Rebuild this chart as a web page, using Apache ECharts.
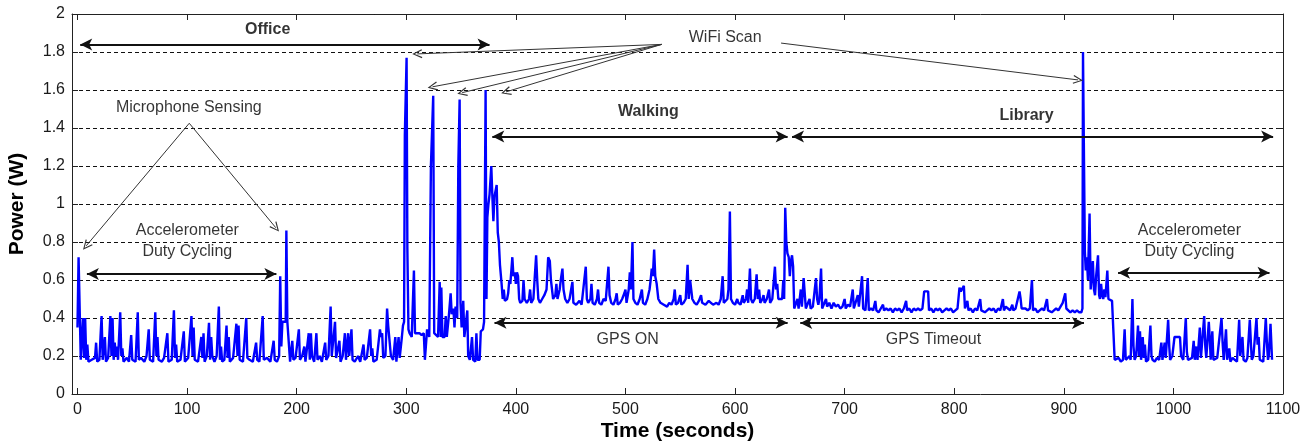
<!DOCTYPE html>
<html lang="en">
<head>
    <meta charset="UTF-8">
    <title>Power trace</title>
    <style>
        html, body {
            margin: 0;
            padding: 0;
            width: 100%;
            height: 100%;
            background: #fff;
        }
        #chart {
            width: 1311px;
            height: 441px;
        }
    </style>
</head>
<body>
<div id="chart"></div>
<script src="https://cdn.jsdelivr.net/npm/echarts@6/dist/echarts.min.js"></script>
<script type="text/javascript">
    // power samples [time (s), power (W)]
    var officeTrace = [
        [0,0.35],[1,0.72],[2.5,0.71],[3,0.18],[4,0.17],[5,0.4],[6,0.19],[7,0.4],[8,0.18],[9,0.26],[10,0.17],[13,0.18],[16,0.19],
        [17,0.27],[18,0.17],[20,0.18],[21,0.3],[22,0.41],[23,0.18],[25,0.3],[26,0.17],[28,0.19],[30,0.41],[31,0.2],[32,0.4],
        [33,0.18],[34,0.27],[35,0.2],[36,0.25],[37,0.18],[39,0.43],[40,0.2],[41,0.24],[42,0.17],[45,0.19],[47,0.17],[49,0.31],
        [50,0.18],[53,0.17],[55,0.43],[56,0.18],[58,0.19],[61,0.17],[63,0.2],[65,0.34],[66,0.18],[69,0.17],[71,0.43],[72,0.2],
        [73,0.3],[74,0.18],[77,0.17],[79,0.19],[82,0.32],[83,0.17],[86,0.18],[88,0.44],[89,0.19],[90,0.26],[91,0.17],[94,0.18],
        [97,0.33],[98,0.17],[101,0.19],[104,0.41],[105,0.2],[106,0.35],[107,0.18],[110,0.17],[113,0.3],[114,0.19],[115,0.32],
        [116,0.17],[118,0.2],[120,0.375],[121,0.18],[122,0.3],[123,0.2],[125,0.17],[127,0.2],[129,0.46],[130,0.18],[131,0.25],
        [132,0.17],[134,0.18],[136,0.36],[137,0.19],[138,0.3],[139,0.17],[142,0.19],[145,0.37],[146,0.2],[147,0.36],[148,0.18],
        [151,0.17],[154,0.4],[155,0.19],[157,0.18],[160,0.17],[163,0.27],[164,0.18],[166,0.17],[169,0.41],[170,0.18],[173,0.19],
        [176,0.17],[179,0.28],[180,0.18],[182,0.17],[184,0.2],[185,0.62],[186,0.25],[187,0.38],[190,0.38],[190.6,0.86],
        [191.5,0.38],[193,0.38],[194,0.17],[196,0.28],[197,0.18],[199,0.19],[202,0.34],[203,0.18],[205,0.2],[207,0.25],[208,0.17],
        [211,0.32],[212,0.18],[213,0.32],[214,0.2],[216,0.17],[218,0.32],[219,0.18],[221,0.2],[223,0.17],[226,0.27],[227,0.18],
        [229,0.2],[231,0.46],[232,0.2],[235,0.38],[236,0.19],[239,0.28],[240,0.17],[242,0.2],[244,0.32],[245,0.18],[247,0.32],
        [248,0.2],[250,0.34],[251,0.18],[253,0.17],[256,0.2],[258,0.17],[261,0.26],[262,0.18],[264,0.19],[267,0.34],[268,0.2],
        [269,0.24],[270,0.17],[273,0.18],[276,0.34],[277,0.3],[278,0.32],[279,0.19],[281,0.2],[282.5,0.45],[283.5,0.36],[285,0.36],
        [286,0.2],[288,0.18],[290,0.3],[291,0.17],[293,0.3],[294,0.19],[296,0.3],[297,0.36],[298,0.38],[298.7,1.36],[299.5,1.36],
        [300.3,1.77],[301,0.77],[302,0.34],[303,0.32],[305,0.3],[306,0.31],[307,0.65],[308,0.32],[312,0.32],[314,0.31],[316,0.32],
        [317,0.18],[318,0.18],[319,0.34],[321,0.3],[322.5,1.2],[323.5,1.2],[324.6,1.57],[325.5,0.32],[327,0.32],[329,0.3],
        [330.5,0.59],[331.5,0.3],[332,0.56],[333,0.3],[335,0.3],[336,0.41],[337,0.3],[338,0.3],[339,0.42],[340.5,0.53],
        [341.5,0.42],[343,0.45],[344,0.35],[345,0.46],[346.5,0.4],[347.5,1.2],[348.7,1.55],[349.5,0.48],[350.5,0.35],[352,0.49],
        [353,0.3],[354,0.35],[355.7,0.44],[356.5,0.2],[358,0.18],[360,0.3],[361,0.18],[363,0.17],[364,0.32],[365,0.18],[367,0.18],
        [368,0.33],[369,0.32],[370,0.34],[371,0.38]
    ];
    var walkTrace = [
        [372.4,1.6],[373.2,0.5],[374,0.93],[375,1.0],[376,1.05],[377.6,1.2],[378.5,1.05],[379.5,0.91],[380.5,1.04],[382.5,1.1],
        [383.5,0.85],[384.5,0.8],[385.5,0.68],[387,0.58],[388,0.5],[389,0.55],[390,0.49],[391,0.48],[392,0.5],[393,0.53],[394,0.6],
        [395,0.58],[396.8,0.72],[397.8,0.62],[399,0.64],[400,0.58],[401,0.64],[402,0.62],[403,0.5],[404,0.48],[406,0.49],[407,0.6],
        [408,0.5],[410,0.48],[412,0.5],[413,0.55],[414,0.48],[416,0.5],[418.5,0.73],[419.5,0.6],[420.5,0.5],[422,0.48],[424,0.5],
        [426,0.52],[428,0.55],[429.5,0.72],[431,0.7],[432,0.6],[433,0.55],[434,0.5],[436,0.52],[437,0.58],[438,0.5],[440,0.55],
        [441,0.6],[442.5,0.66],[443.5,0.55],[445,0.5],[447,0.48],[449,0.5],[451.6,0.59],[452.5,0.48],[455,0.47],[458,0.49],[460,0.47],
        [463.8,0.67],[464.8,0.5],[466,0.48],[468,0.5],[469,0.58],[470,0.48],[472,0.47],[474,0.5],[475,0.55],[476,0.48],[478,0.47],
        [480,0.5],[482,0.49],[484.5,0.67],[485.5,0.52],[487,0.48],[489,0.47],[491,0.5],[492,0.53],[493,0.47],[495,0.48],[497,0.5],
        [499,0.53],[500,0.55],[501,0.48],[503,0.55],[504,0.64],[505,0.55],[506.4,0.8],[507.3,0.5],[509,0.48],[511,0.47],[513,0.5],
        [515,0.55],[516,0.48],[518,0.47],[520,0.5],[522,0.55],[523,0.6],[524,0.66],[525,0.62],[526.2,0.76],[527.2,0.62],[528.5,0.58],
        [530,0.5],[532,0.48],[535,0.47],[538,0.46],[540,0.48],[542,0.47],[544,0.5],[545,0.55],[546,0.47],[548,0.48],[550,0.52],
        [551,0.47],[553,0.48],[555,0.5],[556.7,0.68],[557.7,0.5],[559,0.6],[560,0.55],[561,0.5],[563,0.48],[565,0.47],[567,0.49],
        [569,0.52],[570,0.48],[573,0.47],[576,0.49],[578,0.48],[580,0.47],[583,0.48],[585,0.47],[587,0.5],[588.7,0.62],[589.7,0.48],
        [591,0.47],[593,0.5],[594,0.55],[595.3,0.96],[596.3,0.5],[598,0.48],[600,0.47],[602,0.5],[603,0.48],[605,0.47],[607,0.52],
        [608,0.48],[610,0.5],[611,0.55],[612,0.48],[613.6,0.66],[614.6,0.5],[616,0.48],[618,0.5],[619.7,0.63],[620.7,0.5],[622,0.55],
        [623,0.48],[625,0.5],[626,0.52],[627,0.48],[629,0.5],[631,0.55],[632,0.48],[634,0.5],[635,0.57],[636.4,0.67],[637.4,0.55],
        [638.5,0.58],[639.5,0.5],[641,0.49],[643,0.5],[644,0.6],[644.8,0.5],[645.8,0.98],[646.8,0.8],[647.8,0.74],[649,0.72],
        [650,0.62],[651,0.7],[652,0.73],[653,0.67]
    ];
    var libraryTrace = [
        [654,0.45],[655.5,0.44],[657,0.5],[658,0.45],[660,0.55],[661,0.46],[662.6,0.61],[663.6,0.53],[664.6,0.45],[666,0.44],
        [668,0.5],[669,0.45],[671,0.46],[673.9,0.61],[674.9,0.5],[676,0.47],[677,0.5],[678.5,0.66],[679.5,0.45],[681,0.45],[683,0.5],
        [684,0.46],[686,0.48],[688,0.45],[690,0.48],[692,0.46],[694,0.47],[696,0.45],[698,0.46],[700,0.5],[701,0.45],[703,0.47],
        [705,0.46],[707.4,0.55],[708.4,0.45],[710,0.44],[712,0.52],[713,0.46],[715.9,0.62],[716.9,0.45],[719,0.44],[721.1,0.61],
        [722.1,0.44],[724,0.45],[726,0.44],[728,0.49],[729,0.44],[731,0.43],[733,0.45],[735,0.47],[736,0.44],[738,0.45],[740,0.44],
        [742,0.45],[744,0.43],[746,0.45],[748,0.44],[750,0.45],[752,0.43],[754,0.45],[756.1,0.49],[757,0.44],[759,0.45],[761,0.43],
        [763,0.45],[765,0.44],[767,0.45],[769,0.44],[771,0.45],[772.6,0.54],[776.2,0.54],[777,0.44],[779,0.45],[781,0.43],[783,0.45],
        [785,0.44],[787,0.45],[789,0.43],[791,0.44],[793,0.45],[795,0.44],[797,0.45],[799,0.43],[801,0.44],[803,0.45],[804.8,0.56],
        [806,0.54],[807,0.55],[808.8,0.57],[809.8,0.45],[811,0.44],[812,0.49],[813,0.44],[815,0.45],[817,0.43],[819,0.45],[821,0.44],
        [823.7,0.5],[824.7,0.44],[826,0.45],[828,0.43],[830,0.44],[832,0.45],[834,0.44],[836,0.45],[838,0.43],[840,0.45],[842,0.44],
        [844.4,0.5],[845.4,0.44],[847,0.46],[849,0.45],[851,0.44],[853,0.47],[854,0.44],[856,0.45],[858,0.5],[859.6,0.54],
        [860.6,0.5],[861.5,0.45],[863,0.44],[865,0.45],[867,0.44],[869,0.45],[870.9,0.6],[871.9,0.44],[874,0.45],[876,0.43],
        [878,0.44],[880,0.45],[882,0.44],[884.6,0.5],[885.6,0.44],[887,0.45],[889,0.43],[891,0.44],[893,0.45],[895,0.44],[897,0.46],
        [899,0.48],[901.3,0.53],[902.3,0.45],[904,0.44],[906,0.43],[908,0.44],[910,0.43],[912,0.44],[914,0.43],[916,0.43]
    ];
    var idleTrace = [
        [917,0.45],[917.5,1.8],[918.5,1.8],[919.2,0.75],[920,0.65],[921,0.72],[922,0.6],[923.5,0.95],[924.5,0.55],[925.5,0.62],
        [926.5,0.7],[927.5,0.55],[928.5,0.52],[929.5,0.62],[931.2,0.73],[932.2,0.52],[933,0.5],[934,0.58],[935,0.52],[936,0.5],
        [937,0.55],[938,0.51],[939.7,0.65],[940.7,0.5],[942,0.5],[944,0.49],[945.5,0.5],[946.4,0.18],[948,0.17],[950,0.19],[952,0.17],
        [954,0.18],[955.5,0.34],[956.5,0.18],[958,0.17],[960,0.2],[961,0.18],[962.6,0.5],[963.6,0.25],[964.6,0.18],[966,0.2],
        [967.7,0.36],[968.7,0.2],[969.5,0.33],[970.5,0.18],[972,0.3],[973,0.19],[974,0.26],[975,0.17],[977,0.18],[979,0.36],[980,0.2],
        [981,0.18],[983,0.17],[985,0.19],[987,0.18],[989,0.27],[990,0.18],[992,0.27],[993,0.19],[995.2,0.39],[996.2,0.25],[997,0.18],
        [999,0.2],[1001,0.3],[1006,0.3],[1007,0.2],[1009,0.18],[1011.3,0.4],[1012.3,0.22],[1013.3,0.18],[1015,0.17],[1017,0.19],
        [1018.5,0.28],[1019.5,0.18],[1021,0.25],[1022,0.18],[1024.1,0.35],[1025.1,0.19],[1026,0.2],[1028.1,0.41],[1029.1,0.25],
        [1030,0.19],[1032.3,0.38],[1033.3,0.28],[1034,0.18],[1035.5,0.33],[1036.5,0.18],[1038,0.17],[1040,0.19],[1041,0.18],
        [1043.9,0.4],[1044.9,0.27],[1045.9,0.18],[1048,0.34],[1049,0.18],[1051,0.24],[1052,0.17],[1054,0.19],[1056,0.18],[1058,0.17],
        [1060,0.39],[1061,0.2],[1063,0.3],[1064,0.18],[1066,0.17],[1067.5,0.19],[1069.7,0.39],[1070.7,0.27],[1071.5,0.18],[1073,0.2],
        [1075.8,0.4],[1076.8,0.26],[1077.8,0.3],[1078.8,0.18],[1080,0.19],[1082,0.17],[1084.3,0.4],[1085.3,0.27],[1086.3,0.18],
        [1087,0.2],[1088.6,0.37],[1089.5,0.36],[1090,0.18]
    ];

    var xTicks = [0, 100, 200, 300, 400, 500, 600, 700, 800, 900, 1000, 1100];

    // annotations, in data coordinates
    var spanArrows = [
        [[2.5, 1.84], [376, 1.84]],          // Office
        [[378.5, 1.355], [648, 1.355]],      // Walking
        [[652, 1.355], [1091, 1.355]],       // Library
        [[380.5, 0.375], [648, 0.375]],      // GPS ON
        [[659.5, 0.374], [918.4, 0.374]],    // GPS Timeout
        [[8.6, 0.632], [181.5, 0.632]],      // accelerometer (left)
        [[949.5, 0.638], [1087.7, 0.638]]    // accelerometer (right)
    ];
    var pointerArrows = [
        [[102, 1.425], [8, 0.78]],
        [[102, 1.425], [181, 0.875]],
        [[533, 1.84], [310, 1.79]],
        [[533, 1.84], [324, 1.617]],
        [[533, 1.84], [351, 1.586]],
        [[533, 1.84], [391, 1.59]],
        [[642, 1.847], [913, 1.653]]
    ];
    var notes = [
        {text: 'Office', at: [173.5, 1.916], bold: true},
        {text: 'Walking', at: [521, 1.484], bold: true},
        {text: 'Library', at: [866, 1.463], bold: true},
        {text: 'WiFi Scan', at: [591, 1.874]},
        {text: 'Microphone Sensing', at: [101.6, 1.51]},
        {text: 'Accelerometer\nDuty Cycling', at: [100.2, 0.803]},
        {text: 'Accelerometer\nDuty Cycling', at: [1014.6, 0.805]},
        {text: 'GPS ON', at: [502, 0.284]},
        {text: 'GPS Timeout', at: [781, 0.284]}
    ];

    var powerTrace = officeTrace.concat(walkTrace, libraryTrace, idleTrace);

    var chevron = 'path://M0,10 L5,0 L10,10 L8.8,10.6 L5,2.6 L1.2,10.6 Z';

    function initChart() {
        var dom = document.getElementById('chart');
        var myChart = echarts.init(dom, null, {renderer: 'canvas'});
        var font = "'Liberation Sans', Arial, sans-serif";
        var ink = '#000';

        var spanData = spanArrows.map(function (a) {
            return [{coord: a[0]}, {coord: a[1]}];
        });
        var pointerData = pointerArrows.map(function (a) {
            return [{coord: a[0]}, {coord: a[1]}];
        });
        var noteData = notes.map(function (n) {
            return {
                name: n.text,
                value: n.at,
                label: {fontWeight: n.bold ? 'bold' : 'normal'}
            };
        });

        var option = {
            backgroundColor: '#fff',
            animation: false,
            grid: {left: 72, right: 28, top: 14, bottom: 47, containLabel: false, outerBoundsMode: 'none'},
            xAxis: [
                {
                    type: 'value',
                    min: -5,
                    max: 1100,
                    name: 'Time (seconds)',
                    nameLocation: 'middle',
                    nameGap: 27,
                    nameMoveOverlap: false,
                    nameTextStyle: {fontFamily: font, fontSize: 21, fontWeight: 'bold', color: ink},
                    axisLine: {onZero: false, lineStyle: {color: '#222', width: 1}},
                    axisTick: {inside: true, length: 6, customValues: xTicks, lineStyle: {color: '#222'}},
                    axisLabel: {
                        customValues: xTicks, fontFamily: font, fontSize: 16, color: '#1a1a1a', margin: 8,
                        formatter: function (v) { return String(v); }
                    },
                    splitLine: {show: false}
                },
                {
                    type: 'value',
                    position: 'top',
                    min: -5,
                    max: 1100,
                    axisLine: {show: true, onZero: false, lineStyle: {color: '#222', width: 1}},
                    axisTick: {inside: true, length: 6, customValues: xTicks, lineStyle: {color: '#222'}},
                    axisLabel: {show: false},
                    splitLine: {show: false}
                }
            ],
            yAxis: [
                {
                    type: 'value',
                    min: 0,
                    max: 2,
                    interval: 0.2,
                    name: 'Power (W)',
                    nameLocation: 'middle',
                    nameGap: 44,
                    nameMoveOverlap: false,
                    nameTextStyle: {fontFamily: font, fontSize: 21, fontWeight: 'bold', color: ink},
                    axisLine: {show: true, onZero: false, lineStyle: {color: '#222', width: 1}},
                    axisTick: {show: true, inside: true, length: 6, lineStyle: {color: '#222'}},
                    axisLabel: {fontFamily: font, fontSize: 16, color: '#1a1a1a', margin: 7},
                    splitLine: {show: true, lineStyle: {color: '#111', width: 1, type: [4, 3]}}
                },
                {
                    type: 'value',
                    position: 'right',
                    min: 0,
                    max: 2,
                    interval: 0.2,
                    axisLine: {show: true, onZero: false, lineStyle: {color: '#222', width: 1}},
                    axisTick: {show: true, inside: true, length: 6, lineStyle: {color: '#222'}},
                    axisLabel: {show: false},
                    splitLine: {show: false}
                }
            ],
            series: [
                {
                    name: 'Power',
                    type: 'line',
                    data: powerTrace,
                    showSymbol: false,
                    symbol: 'none',
                    lineStyle: {color: '#0000ff', width: 2.4},
                    z: 3
                },
                {
                    name: 'spans',
                    type: 'line',
                    data: [],
                    z: 4,
                    markLine: {
                        silent: true,
                        animation: false,
                        symbol: ['arrow', 'arrow'],
                        symbolSize: [9, 12],
                        label: {show: false},
                        lineStyle: {color: '#111', width: 2, type: 'solid'},
                        data: spanData
                    }
                },
                {
                    name: 'pointers',
                    type: 'line',
                    data: [],
                    z: 4,
                    markLine: {
                        silent: true,
                        animation: false,
                        symbol: ['none', chevron],
                        symbolSize: [9, 10],
                        label: {show: false},
                        lineStyle: {color: '#333', width: 1, type: 'solid'},
                        data: pointerData
                    }
                },
                {
                    name: 'notes',
                    type: 'scatter',
                    data: noteData,
                    symbolSize: 0,
                    silent: true,
                    z: 5,
                    label: {
                        show: true,
                        position: 'inside',
                        formatter: '{b}',
                        fontFamily: font,
                        fontSize: 16,
                        lineHeight: 21,
                        color: ink,
                        align: 'center',
                        verticalAlign: 'middle'
                    }
                }
            ]
        };

        myChart.setOption(option, true);
    }

    initChart();
</script>
</body>
</html>
